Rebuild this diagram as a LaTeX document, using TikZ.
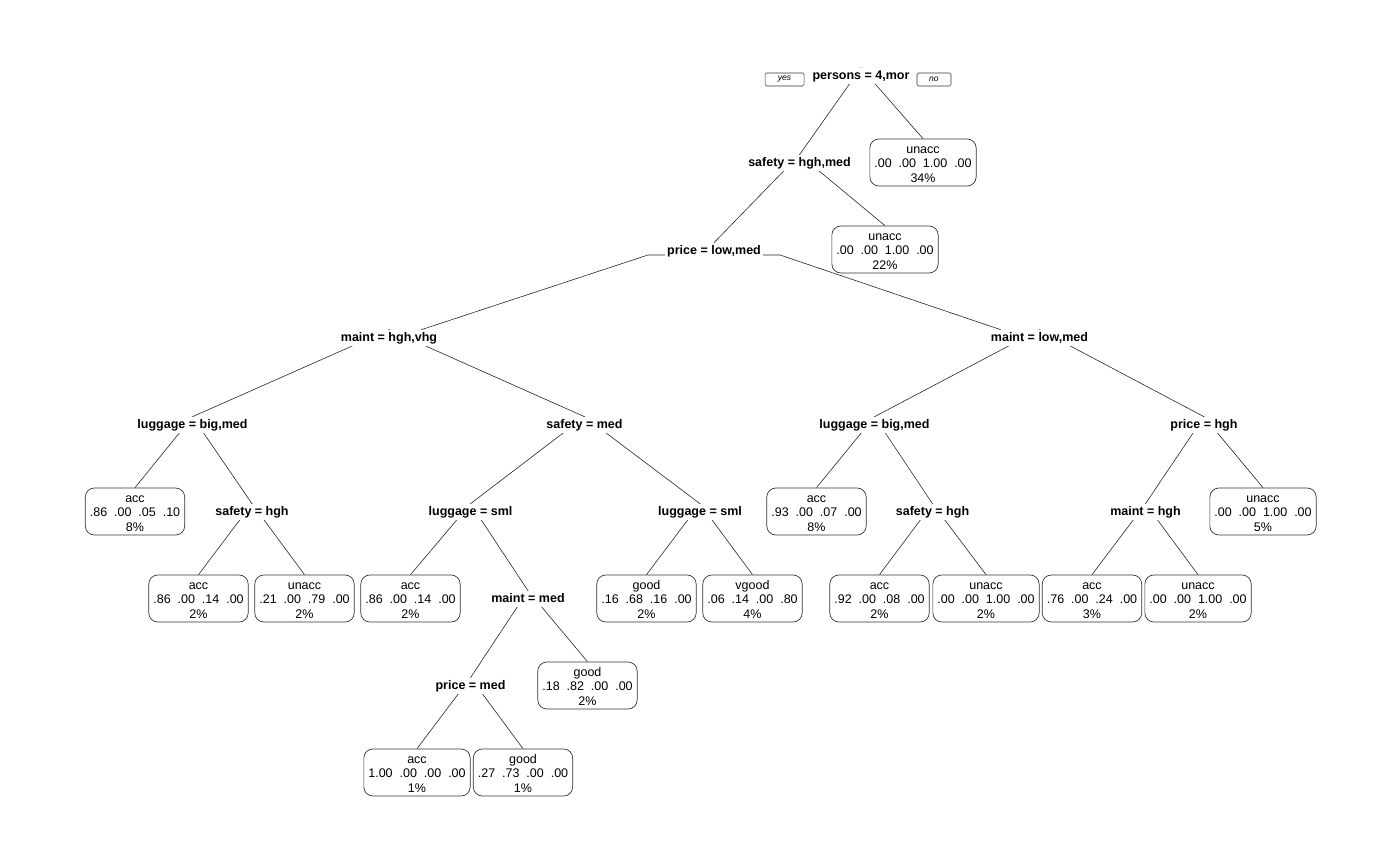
\documentclass[tikz,border=0pt]{standalone}
\usepackage{fontspec}
\setmainfont{Liberation Sans}
\usetikzlibrary{backgrounds,positioning}
\tikzset{
    SP/.style ={rectangle, fill=white, inner sep=2pt, text height=9.5pt, text depth=2.7pt, font=\fontsize{12.5}{14.5}\selectfont\bfseries},
    LF/.style ={rectangle, rounded corners=9pt, draw=black!80, line width=0.7pt, fill=white, align=center, inner xsep=4.5pt, inner ysep=1pt, text height=42.5pt, text depth=2.5pt, font=\fontsize{12.5}{14.6}\selectfont},
    YN/.style ={rectangle, rounded corners=1.5pt, draw=black!80, line width=0.6pt, inner xsep=0pt, inner ysep=0pt, minimum height=13pt, font=\fontsize{8.5}{9}\selectfont\itshape},
    BR/.style ={line width=0.6pt, draw=black!85}}

\begin{document}
\begin{tikzpicture}[x=1pt,y=-1pt]
        \useasboundingbox (0,0) rectangle (1398,862);
        \node[SP] (1) at(861,76){persons = 4,mor};
        \node[YN, minimum width=39pt, left=6pt of 1, yshift=-3.5pt] (yes){yes};
        \node[YN, minimum width=34pt, right=5pt of 1, yshift=-3.5pt] (no){no};
        \node[LF] (2) at(923,162.5){unacc\\.00~~.00~~1.00~~.00\\34\%};
        \node[SP] (3) at(799.5,163){safety = hgh,med};
        \node[LF] (4) at(885,249.5){unacc\\.00~~.00~~1.00~~.00\\22\%};
        \node[SP] (5) at(714,251){price = low,med};
        \node[SP] (6) at(389,338){maint = hgh,vhg};
        \node[SP] (7) at(1039.5,338){maint = low,med};
        \node[SP] (8) at(192.5,425){luggage = big,med};
        \node[SP] (9) at(584.5,425){safety = med};
        \node[SP] (10) at(874.5,425){luggage = big,med};
        \node[SP] (11) at(1204,425){price = hgh};
        \node[LF] (12) at(135,511.5){acc\\.86~~.00~~.05~~.10\\8\%};
        \node[SP] (13) at(252,512){safety = hgh};
        \node[SP] (14) at(470.5,512){luggage = sml};
        \node[SP] (15) at(700,512){luggage = sml};
        \node[LF] (16) at(816.5,511.5){acc\\.93~~.00~~.07~~.00\\8\%};
        \node[SP] (17) at(932.5,512){safety = hgh};
        \node[SP] (18) at(1145.5,512){maint = hgh};
        \node[LF] (19) at(1263,511.5){unacc\\.00~~.00~~1.00~~.00\\5\%};
        \node[LF] (20) at(198.5,598.5){acc\\.86~~.00~~.14~~.00\\2\%};
        \node[LF] (21) at(304.5,598.5){unacc\\.21~~.00~~.79~~.00\\2\%};
        \node[LF] (22) at(410.5,598.5){acc\\.86~~.00~~.14~~.00\\2\%};
        \node[SP] (23) at(528,599){maint = med};
        \node[LF] (24) at(646.5,598.5){good\\.16~~.68~~.16~~.00\\2\%};
        \node[LF] (25) at(752.5,598.5){vgood\\.06~~.14~~.00~~.80\\4\%};
        \node[LF] (26) at(879.5,598.5){acc\\.92~~.00~~.08~~.00\\2\%};
        \node[LF] (27) at(986,598.5){unacc\\.00~~.00~~1.00~~.00\\2\%};
        \node[LF] (28) at(1092,598.5){acc\\.76~~.00~~.24~~.00\\3\%};
        \node[LF] (29) at(1198,598.5){unacc\\.00~~.00~~1.00~~.00\\2\%};
        \node[SP] (30) at(470.5,686){price = med};
        \node[LF] (31) at(587.5,685.5){good\\.18~~.82~~.00~~.00\\2\%};
        \node[LF] (32) at(417,772.5){acc\\1.00~~.00~~.00~~.00\\1\%};
        \node[LF] (33) at(523,772.5){good\\.27~~.73~~.00~~.00\\1\%};
        \begin{scope}[on background layer]
        \draw[BR] (1.north) --(3.north);
        \draw[BR] (1.north) --(2.north);
        \draw[BR] (3.north) --(5.north);
        \draw[BR] (3.north) --(4.north);
        \draw[BR] ([yshift=-4pt]5.west) --++(-17,0) --([xshift=-18pt]6.north east);
        \draw[BR] ([yshift=-4pt]5.east) --++(17,0) --([xshift=12pt]7.north west);
        \draw[BR] (6.north) --(8.north);
        \draw[BR] (6.north) --(9.north);
        \draw[BR] (7.north) --(10.north);
        \draw[BR] (7.north) --(11.north);
        \draw[BR] (8.north) --(12.north);
        \draw[BR] (8.north) --(13.north);
        \draw[BR] (9.north) --(14.north);
        \draw[BR] (9.north) --(15.north);
        \draw[BR] (10.north) --(16.north);
        \draw[BR] (10.north) --(17.north);
        \draw[BR] (11.north) --(18.north);
        \draw[BR] (11.north) --(19.north);
        \draw[BR] (13.north) --(20.north);
        \draw[BR] (13.north) --(21.north);
        \draw[BR] (14.north) --(22.north);
        \draw[BR] (14.north) --(23.north);
        \draw[BR] (15.north) --(24.north);
        \draw[BR] (15.north) --(25.north);
        \draw[BR] (17.north) --(26.north);
        \draw[BR] (17.north) --(27.north);
        \draw[BR] (18.north) --(28.north);
        \draw[BR] (18.north) --(29.north);
        \draw[BR] (23.north) --(30.north);
        \draw[BR] (23.north) --(31.north);
        \draw[BR] (30.north) --(32.north);
        \draw[BR] (30.north) --(33.north);
        \end{scope}
    \end{tikzpicture}
\end{document}
